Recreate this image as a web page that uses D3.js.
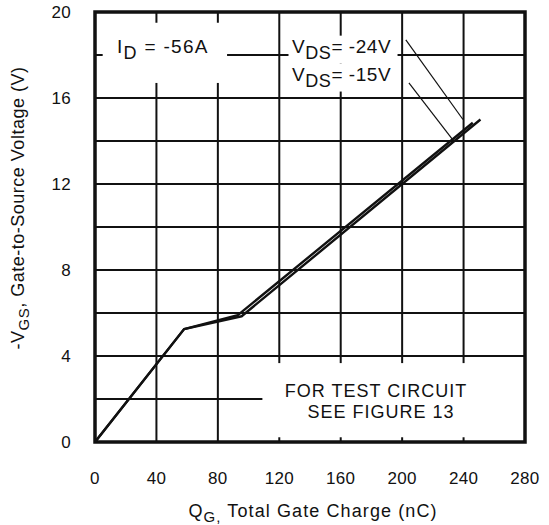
<!DOCTYPE html>
<html><head><meta charset="utf-8">
<script src="https://cdn.jsdelivr.net/npm/d3@7"></script>
<style>
html,body{margin:0;padding:0;background:#fff;}
svg{display:block;font-family:"Liberation Sans",Arial,sans-serif;}
</style></head>
<body>
<svg id="c" width="549" height="525"></svg>
<script>
// ---- data ----
const xTicks = [0, 40, 80, 120, 160, 200, 240, 280];
const yTicks = [0, 4, 8, 12, 16, 20];
const xGrid = [40, 80, 120, 160, 200, 240];
const yGrid = [2, 4, 6, 8, 10, 12, 14, 16, 18];
const qg15 = [0, 58, 93, 246];          // VDS = -15V, gate charge (nC)
const vgs15 = [0, 5.25, 5.9, 14.85];     // -VGS (V)
const qg24 = [0, 58, 95.5, 251];        // VDS = -24V
const vgs24 = [0, 5.25, 5.85, 15.0];

const svg = d3.select("#c");
const x = d3.scaleLinear().domain([0, 280]).range([95, 525]);
const y = d3.scaleLinear().domain([0, 20]).range([442, 12]);
const ink = "#111";

// grid
svg.append("g").selectAll("line").data(xGrid).join("line")
  .attr("x1", d => x(d)).attr("x2", d => x(d)).attr("y1", y(20)).attr("y2", y(0))
  .attr("stroke", ink).attr("stroke-width", 2);
svg.append("g").selectAll("line").data(yGrid).join("line")
  .attr("x1", x(0)).attr("x2", x(280)).attr("y1", d => y(d)).attr("y2", d => y(d))
  .attr("stroke", ink).attr("stroke-width", 2);

// label background boxes (gaps in the grid), in data coords
const boxes = [
  [5, 19.5, 86, 16.7],
  [126, 18.9, 197, 17.6],
  [126, 17.6, 197, 16.3],
  [109, 3.67, 279.5, 0.22]
];
svg.append("g").selectAll("rect").data(boxes).join("rect")
  .attr("x", d => x(d[0])).attr("y", d => y(d[1]))
  .attr("width", d => x(d[2]) - x(d[0])).attr("height", d => y(d[3]) - y(d[1]))
  .attr("fill", "#fff");

// frame
svg.append("rect").attr("x", x(0)).attr("y", y(20))
  .attr("width", x(280) - x(0)).attr("height", y(0) - y(20))
  .attr("fill", "none").attr("stroke", ink).attr("stroke-width", 3.5);

// curves
const line = d3.line().x(d => x(d[0])).y(d => y(d[1]));
const s15 = qg15.map((q, i) => [q, vgs15[i]]);
const s24 = qg24.map((q, i) => [q, vgs24[i]]);
[s15, s24].forEach(s => {
  svg.append("path").datum(s).attr("d", line)
    .attr("fill", "none").attr("stroke", ink).attr("stroke-width", 2.4)
    .attr("stroke-linejoin", "round");
});

// leader lines
const leaders = [
  [[202.4, 18.7], [239.6, 15.0]],
  [[204.4, 16.7], [232.5, 14.1]]
];
svg.append("g").selectAll("path").data(leaders).join("path")
  .attr("d", line).attr("fill", "none").attr("stroke", ink).attr("stroke-width", 1.2);

// tick labels
svg.append("g").selectAll("text").data(xTicks).join("text")
  .attr("x", d => x(d)).attr("y", 484).attr("text-anchor", "middle")
  .attr("font-size", 17).attr("letter-spacing", 0.3).attr("fill", ink).text(d => d);
svg.append("g").selectAll("text").data(yTicks).join("text")
  .attr("x", 71).attr("y", d => y(d) + 6).attr("text-anchor", "end")
  .attr("font-size", 17).attr("letter-spacing", 0.3).attr("fill", ink).text(d => d);

// axis titles
const xt = svg.append("text").attr("x", 313).attr("y", 517).attr("text-anchor", "middle")
  .attr("font-size", 18).attr("letter-spacing", 1.1).attr("fill", ink);
xt.append("tspan").text("Q");
xt.append("tspan").attr("font-size", 15).attr("dy", 5).text("G,");
xt.append("tspan").attr("dy", -5).text(" Total Gate Charge (nC)");

const yt = svg.append("text").attr("transform", "translate(24,208) rotate(-90)")
  .attr("text-anchor", "middle").attr("font-size", 18).attr("letter-spacing", 0.5).attr("fill", ink);
yt.append("tspan").text("-V");
yt.append("tspan").attr("font-size", 15).attr("dy", 5).text("GS");
yt.append("tspan").attr("dy", -5).text(", Gate-to-Source Voltage (V)");

// annotations
function sub(xx, yy, main, s, rest, size, ls) {
  const tx = svg.append("text").attr("x", xx).attr("y", yy).attr("font-size", size)
    .attr("letter-spacing", ls).attr("fill", ink);
  tx.append("tspan").text(main);
  tx.append("tspan").attr("font-size", size * 0.95).attr("dy", 6).text(s);
  tx.append("tspan").attr("dy", -6).text(rest);
  return tx;
}
sub(117, 53, "I", "D", " = -56A", 19, 1.3);
sub(292, 53, "V", "DS", "= -24V", 19, 0.55);
sub(292, 81, "V", "DS", "= -15V", 19, 0.55);

svg.append("text").attr("x", 376).attr("y", 397).attr("text-anchor", "middle")
  .attr("font-size", 18).attr("letter-spacing", 1).attr("fill", ink).text("FOR TEST CIRCUIT");
svg.append("text").attr("x", 381).attr("y", 418).attr("text-anchor", "middle")
  .attr("font-size", 18).attr("letter-spacing", 1).attr("fill", ink).text("SEE FIGURE 13");
</script>
</body></html>
